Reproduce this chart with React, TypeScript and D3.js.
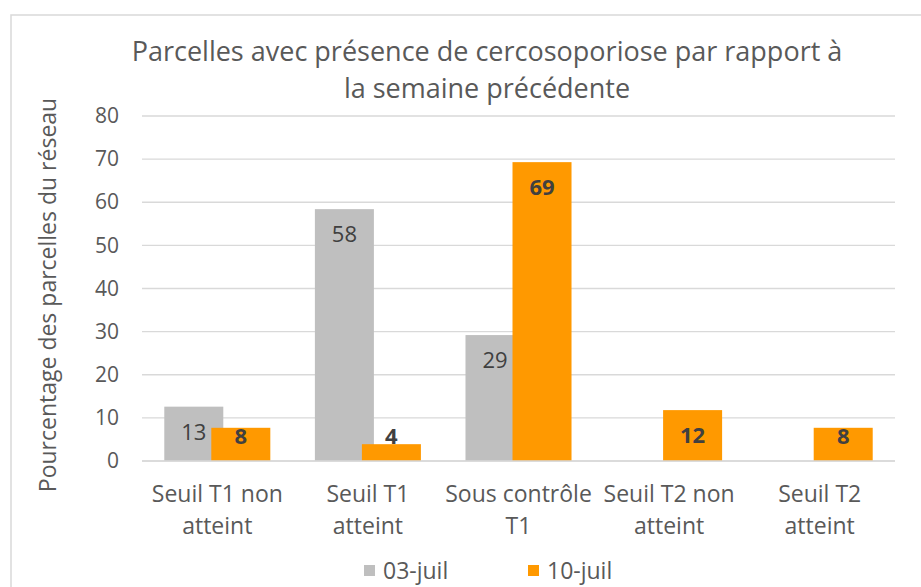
import * as d3 from "d3";
import {useRef, useEffect} from "react";

const categories = [
    ["Seuil T1 non", "atteint"],
    ["Seuil T1", "atteint"],
    ["Sous contrôle", "T1"],
    ["Seuil T2 non", "atteint"],
    ["Seuil T2", "atteint"],
];
const seriesNames = ["03-juil", "10-juil"];
const values0307 = [12.6, 58.4, 29.2, null, null];
const values1007 = [7.7, 3.9, 69.3, 11.8, 7.7];
const yTicks = [0, 10, 20, 30, 40, 50, 60, 70, 80];

export default function App() {
    const svgRef = useRef(null);
    const width = 921;
    const height = 587;
    const font = "'Open Sans', sans-serif";
    const textColor = "#595959";
    const colors = ["#BFBFBF", "#FF9900"];

    useEffect(() => {
        const svg = d3.select(svgRef.current);
        svg.selectAll("*").remove();

        // chart border
        svg.append("rect")
            .attr("x", 11).attr("y", 15)
            .attr("width", 930).attr("height", 600)
            .attr("fill", "white")
            .attr("stroke", "#D9D9D9")
            .attr("stroke-width", 1.5);

        // title
        const title = svg.append("text")
            .attr("text-anchor", "middle")
            .attr("font-family", font)
            .attr("font-size", 27)
            .attr("fill", textColor);
        title.append("tspan").attr("x", 487).attr("y", 61)
            .text("Parcelles avec présence de cercosoporiose par rapport à");
        title.append("tspan").attr("x", 487).attr("y", 98)
            .text("la semaine précédente");

        const keys = categories.map(c => c.join(" "));
        const x = d3.scaleBand()
            .domain(keys)
            .range([142, 895])
            .paddingInner(0.296)
            .paddingOuter(0.148);

        const y = d3.scaleLinear()
            .domain([0, 80])
            .range([461, 116]);

        // gridlines
        svg.append("g")
            .selectAll("line")
            .data(yTicks)
            .join("line")
            .attr("x1", 142).attr("x2", 895)
            .attr("y1", d => y(d)).attr("y2", d => y(d))
            .attr("stroke", "#D9D9D9")
            .attr("stroke-width", 1.3);

        // y axis labels
        const yAxis = svg.append("g")
            .attr("transform", "translate(142,0)")
            .call(d3.axisLeft(y).tickValues(yTicks).tickSize(0).tickPadding(23));
        yAxis.select(".domain").remove();
        yAxis.selectAll("text")
            .attr("font-family", font)
            .attr("font-size", 21)
            .attr("fill", textColor);

        // y axis title
        svg.append("text")
            .attr("transform", "translate(56,295) rotate(-90)")
            .attr("text-anchor", "middle")
            .attr("font-family", font)
            .attr("font-size", 23)
            .attr("fill", textColor)
            .text("Pourcentage des parcelles du réseau");

        const bw = x.bandwidth() * 59 / 106;
        const series = [values0307, values1007];

        series.forEach((vals, s) => {
            const g = svg.append("g");
            const data = vals.map((v, i) => ({key: keys[i], v})).filter(d => d.v !== null);
            g.selectAll("rect")
                .data(data)
                .join("rect")
                .attr("x", d => (x(d.key) as number) + (s === 0 ? 0 : x.bandwidth() - bw))
                .attr("y", d => y(d.v as number))
                .attr("width", bw)
                .attr("height", d => y(0) - y(d.v as number))
                .attr("fill", colors[s]);
            g.selectAll("text")
                .data(data)
                .join("text")
                .attr("x", d => (x(d.key) as number) + (s === 0 ? 0 : x.bandwidth() - bw) + bw / 2)
                .attr("y", d => Math.min(y(d.v as number) + 33, 444))
                .attr("text-anchor", "middle")
                .attr("font-family", font)
                .attr("font-size", 22)
                .attr("font-weight", s === 1 ? "bold" : "normal")
                .attr("fill", "#404040")
                .text(d => Math.round(d.v as number));
        });

        // baseline
        svg.append("line")
            .attr("x1", 142).attr("x2", 895)
            .attr("y1", y(0)).attr("y2", y(0))
            .attr("stroke", "#D9D9D9")
            .attr("stroke-width", 1.3);

        // category labels
        const cat = svg.append("g")
            .selectAll("text")
            .data(categories)
            .join("text")
            .attr("text-anchor", "middle")
            .attr("font-family", font)
            .attr("font-size", 23)
            .attr("fill", textColor);
        cat.each(function (d, i) {
            const t = d3.select(this);
            const cx = (x(keys[i]) as number) + x.bandwidth() / 2;
            t.append("tspan").attr("x", cx).attr("y", 502).text(d[0]);
            t.append("tspan").attr("x", cx).attr("y", 534).text(d[1]);
        });

        // legend
        const legendX = [364, 528];
        seriesNames.forEach((name, s) => {
            svg.append("rect")
                .attr("x", legendX[s]).attr("y", 565)
                .attr("width", 11).attr("height", 11)
                .attr("fill", colors[s]);
            svg.append("text")
                .attr("x", legendX[s] + 19).attr("y", 579)
                .attr("font-family", font)
                .attr("font-size", 23)
                .attr("fill", textColor)
                .text(name);
        });
    }, []);

    return (
        <svg ref={svgRef} width={width} height={height}
             style={{position: "absolute", left: 0, top: 0, display: "block"}} />
    );
}
